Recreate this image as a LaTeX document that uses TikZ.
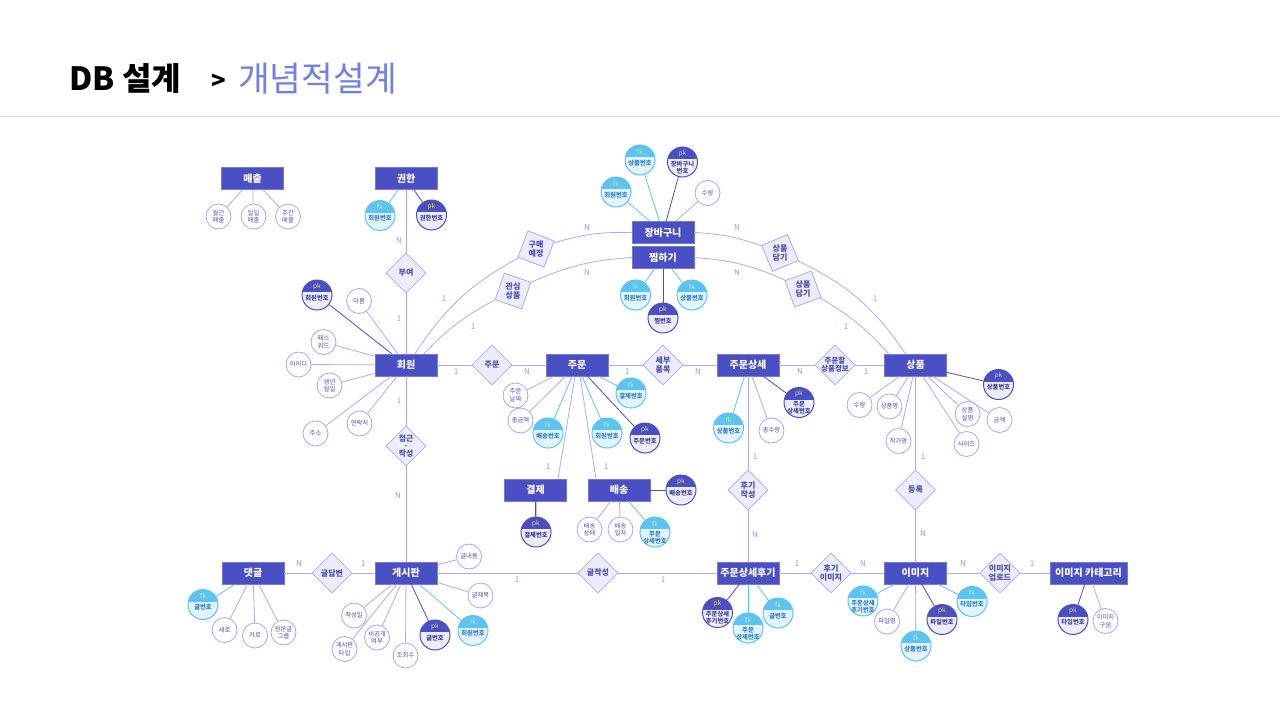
\documentclass[tikz,border=0pt]{standalone}
\usepackage{fontspec}
\setmainfont{Noto Sans CJK KR}
\usetikzlibrary{shapes.geometric}
\definecolor{entf}{HTML}{4A4FC4}
\definecolor{entb}{HTML}{7478D8}
\definecolor{lnc}{HTML}{A9ACF2}
\definecolor{relf}{HTML}{ECECFC}
\definecolor{relb}{HTML}{A9ACF0}
\definecolor{relt}{HTML}{4A4FB2}
\definecolor{attb}{HTML}{A4A7F0}
\definecolor{attt}{HTML}{4B4FB5}
\definecolor{pkb}{HTML}{4B4FC4}
\definecolor{pkf}{HTML}{ECECFA}
\definecolor{pkt}{HTML}{3D4199}
\definecolor{pktag}{HTML}{F2D35C}
\definecolor{fkb}{HTML}{5EC3F2}
\definecolor{fkf}{HTML}{E2F4FD}
\definecolor{fkt}{HTML}{2D7FC9}
\definecolor{fktag}{HTML}{B5F0A0}
\definecolor{cardc}{HTML}{969AEA}
\definecolor{ttlblue}{HTML}{6F80E6}
\definecolor{sepc}{HTML}{D9D9D9}
\tikzset{
 ent/.style={rectangle, draw=entb, line width=0.6pt, fill=entf, text=white, font=\bfseries\fontsize{10}{12}\selectfont, minimum width=62pt, minimum height=22pt, inner sep=0pt},
 rel/.style={diamond, draw=relb, fill=relf, line width=0.8pt, minimum width=40pt, minimum height=40pt, inner sep=0pt},
 rtxt/.style={text=relt, font=\bfseries\fontsize{8}{8.8}\selectfont, align=center, inner sep=0pt},
 att/.style={circle, draw=attb, fill=white, line width=0.8pt, minimum size=25pt, inner sep=0pt, text=attt, font=\fontsize{6.3}{7.5}\selectfont, align=center},
 keyc/.style={circle, line width=1pt, minimum size=30pt, inner sep=0pt},
 pkc/.style={keyc, draw=pkb, fill=pkf, path picture={\fill[pkb] ([yshift=-12pt]path picture bounding box.north west) rectangle (path picture bounding box.north east);}},
 fkc/.style={keyc, draw=fkb, fill=fkf, path picture={\fill[fkb] ([yshift=-12pt]path picture bounding box.north west) rectangle (path picture bounding box.north east);}},
 tagpk/.style={text=pktag, font=\fontsize{6.5}{7}\selectfont, inner sep=0pt},
 tagfk/.style={text=fktag, font=\fontsize{6.5}{7}\selectfont, inner sep=0pt},
 pktx/.style={text=pkt, font=\bfseries\fontsize{6.3}{7}\selectfont, align=center, inner sep=0pt},
 fktx/.style={text=fkt, font=\bfseries\fontsize{6.3}{7}\selectfont, align=center, inner sep=0pt},
 ln/.style={draw=lnc, line width=0.8pt},
 lpk/.style={draw=pkb, line width=0.8pt},
 lfk/.style={draw=fkb, line width=0.8pt},
 card/.style={text=cardc, font=\fontsize{8}{8}\selectfont, inner sep=0pt},
}
\newcommand\myAttr[3]{\node[att] (#1) at (#2) {#3};}
\newcommand\myPK[4][-3pt]{\node[pkc] (#2) at (#3) {}; \node[tagpk] (#2t) at ([yshift=8.5pt]#2.center) {pk}; \node[pktx] (#2x) at ([yshift=#1]#2.center) {#4};}
\newcommand\myFK[4][-3pt]{\node[fkc] (#2) at (#3) {}; \node[tagfk] (#2t) at ([yshift=8.5pt]#2.center) {fk}; \node[fktx] (#2x) at ([yshift=#1]#2.center) {#4};}
\begin{document}
\begin{tikzpicture}[x=1pt,y=-1pt]
\useasboundingbox (0,0) rectangle (1280,720);
\fill[white] (0,0) rectangle (1280,720);
% header
\node[anchor=base west, inner sep=0pt, font=\bfseries\fontsize{32}{34}\selectfont] (t1) at (69,90) {DB 설계};
\node[anchor=base west, inner sep=0pt, font=\bfseries\fontsize{24}{26}\selectfont] (t2) at (211,89) {>};
\node[anchor=base west, inner sep=0pt, text=ttlblue, font=\fontsize{34.5}{36}\selectfont] (t3) at (238,91) {개념적설계};
\coordinate (s1) at (0,116); \coordinate (s2) at (1280,116);
\draw[sepc, line width=1pt] (s1) -- (s2);
% entities
\node[ent] (ms) at (252.5,178.5) {매출};
\node[ent] (gh) at (406,178.5) {권한};
\node[ent] (jb) at (663,232.5) {장바구니};
\node[ent] (jj) at (663,257.5) {찜하기};
\node[ent] (hw) at (406,365) {회원};
\node[ent] (jm) at (577,365) {주문};
\node[ent] (jd) at (748,365) {주문상세};
\node[ent] (sp) at (915.5,365) {상품};
\node[ent] (gj) at (535.5,490) {결제};
\node[ent] (bs) at (619,490) {배송};
\node[ent] (dg) at (253,573) {댓글};
\node[ent] (gp) at (406,573) {게시판};
\node[ent] (jh) at (748,573) {주문상세후기};
\node[ent] (im) at (915.5,573) {이미지};
\node[ent, minimum width=77pt] (ic) at (1088.5,573) {이미지 카테고리};
% relationships
\node[rel, label={[rtxt]center:부여}] (rby) at (406,273) {};
\node[rel, rotate=24] (rgm) at (536,249) {};
\node[rtxt] (rgmt) at (rgm.center) {구매\\예정};
\node[rel, rotate=26] (rgs) at (513,291) {};
\node[rtxt] (rgst) at (rgs.center) {관심\\상품};
\node[rel, rotate=-22] (rsd1) at (780,253) {};
\node[rtxt] (rsd1t) at (rsd1.center) {상품\\담기};
\node[rel, rotate=-25] (rsd2) at (803,289) {};
\node[rtxt] (rsd2t) at (rsd2.center) {상품\\담기};
\node[rel, label={[rtxt]center:주문}] (rjm) at (492,365) {};
\node[rel, label={[rtxt]center:{세부\\품목}}] (rsb) at (663,365) {};
\node[rel, label={[rtxt, font=\bfseries\fontsize{7.5}{8.3}\selectfont]center:{주문할\\상품정보}}] (rjs) at (835,365) {};
\node[rel, label={[rtxt, font=\bfseries\fontsize{7.8}{7.6}\selectfont]center:{접근\\-\\작성}}] (rjg) at (406,446) {};
\node[rel, label={[rtxt]center:{후기\\작성}}] (rhj) at (748,490) {};
\node[rel, label={[rtxt]center:등록}] (rdr) at (915.5,490) {};
\node[rel, label={[rtxt]center:글답변}] (rgd) at (332,573) {};
\node[rel, label={[rtxt]center:글작성}] (rgjs) at (598,573) {};
\node[rel, label={[rtxt]center:{후기\\이미지}}] (rhi) at (831,573) {};
\node[rel, label={[rtxt]center:{이미지\\업로드}}] (riu) at (1000,573) {};
% attributes
\myAttr{a1}{218.5,216.5}{월간\\매출}
\myAttr{a2}{253.5,216.5}{일일\\매출}
\myAttr{a3}{288,216.5}{주간\\매출}
\myFK{k1}{380,215.5}{회원번호}
\myPK{k2}{431.5,215}{권한번호}
\myFK{k3}{640,160}{상품번호}
\myPK[-5.5pt]{k4}{682.5,162}{장바구니\\번호}
\myFK{k5}{616,192}{회원번호}
\myAttr{a4}{707.5,193}{수량}
\myFK{k6}{635.5,295}{회원번호}
\myPK{k7}{663,318}{찜번호}
\myFK{k8}{692,295}{상품번호}
\myPK{k9}{317,295}{회원번호}
\myAttr{a5}{359,301}{이름}
\myAttr{a6}{323.5,342}{패스\\워드}
\myAttr{a7}{298.5,364.5}{아이디}
\myAttr{a8}{329.5,385.5}{생년\\월일}
\myAttr{a9}{315.5,433.5}{주소}
\myAttr{a10}{359.5,423.5}{연락처}
\myAttr{a11}{515.5,395.5}{주문\\날짜}
\myAttr{a12}{520.5,420.5}{총금액}
\myFK{k10}{548,433}{배송번호}
\myFK{k11}{607,433}{회원번호}
\myPK{k12}{645,438}{주문번호}
\myFK{k13}{631,393}{결제번호}
\myPK{k14}{536,532}{결제번호}
\myPK{k15}{681,490}{배송번호}
\myAttr{a13}{589.5,529.5}{배송\\상태}
\myAttr{a14}{620.5,529.5}{배송\\일자}
\myFK[-5.5pt]{k16}{655,532}{주문\\상세번호}
\myFK{k17}{728.5,428}{상품번호}
\myAttr{a15}{771.5,430.5}{총수량}
\myPK[-5.5pt]{k18}{799,402.5}{주문\\상세번호}
\myPK{k19}{998.5,384.5}{상품번호}
\myAttr{a16}{859.5,405}{수량}
\myAttr{a17}{889.5,406.5}{상품명}
\myAttr{a18}{898.5,441}{작가명}
\myAttr{a19}{967.5,414}{상품\\설명}
\myAttr{a20}{999.5,420}{금액}
\myAttr{a21}{966.5,444}{사이즈}
\myFK{k20}{203,604.5}{글번호}
\myAttr{a22}{224.5,630}{세로}
\myAttr{a23}{255,635.5}{가로}
\myAttr{a24}{283.5,632.5}{원본글\\그룹}
\myAttr{a25}{469,556.5}{글내용}
\myAttr{a26}{480.5,595.5}{글제목}
\myAttr{a27}{354,615.5}{작성일}
\myAttr{a28}{377,637.5}{비공개\\여부}
\myAttr{a29}{344.5,649}{게시판\\타입}
\myAttr{a30}{405.5,655.5}{조회수}
\myPK{k21}{435,635}{글번호}
\myFK{k22}{473,630.5}{회원번호}
\myPK[-5.5pt]{k23}{717.5,612.5}{주문상세\\후기번호}
\myFK[-5.5pt]{k24}{748,628}{주문\\상세번호}
\myFK{k25}{778,613}{글번호}
\myFK[-5.5pt]{k26}{863,601}{주문상세\\후기번호}
\myAttr{a31}{887,621.5}{파일명}
\myFK{k27}{916,646}{상품번호}
\myPK{k28}{942,619.5}{파일번호}
\myFK{k29}{972,601.5}{타입번호}
\myPK{k30}{1073,619.5}{타입번호}
\myAttr{a32}{1105.5,621}{이미지\\구분}
% attribute edges
\draw[ln] (ms) -- (a1); \draw[ln] (ms) -- (a2); \draw[ln] (ms) -- (a3);
\draw[lfk] (gh) -- (k1); \draw[lpk] (gh) -- (k2);
\draw[lfk] (jb) -- (k3); \draw[lpk] (jb) -- (k4); \draw[lfk] (jb) -- (k5); \draw[ln] (jb) -- (a4);
\draw[lfk] (jj) -- (k6); \draw[lpk] (jj) -- (k7); \draw[lfk] (jj) -- (k8);
\draw[lpk] (hw) -- (k9);
\foreach \a in {a5,a6,a7,a8,a9,a10} {\draw[ln] (hw) -- (\a);}
\draw[ln] (jm) -- (a11); \draw[ln] (jm) -- (a12);
\draw[lfk] (jm) -- (k10); \draw[lfk] (jm) -- (k11); \draw[lfk] (jm) -- (k13); \draw[lpk] (jm) -- (k12);
\draw[lpk, line width=1.3pt] (gj) -- (k14);
\draw[lpk] (bs) -- (k15); \draw[ln] (bs) -- (a13); \draw[ln] (bs) -- (a14); \draw[lfk] (bs) -- (k16);
\draw[lfk] (jd) -- (k17); \draw[ln] (jd) -- (a15); \draw[lpk] (jd) -- (k18);
\draw[lpk] (sp) -- (k19);
\foreach \a in {a16,a17,a18,a19,a20,a21} {\draw[ln] (sp) -- (\a);}
\draw[lfk] (dg) -- (k20);
\foreach \a in {a22,a23,a24} {\draw[ln] (dg) -- (\a);}
\foreach \a in {a25,a26,a27,a28,a29,a30} {\draw[ln] (gp) -- (\a);}
\draw[lpk] (gp) -- (k21); \draw[lfk] (gp) -- (k22);
\draw[lpk] (jh) -- (k23); \draw[lfk] (jh) -- (k24); \draw[lfk] (jh) -- (k25);
\draw[lfk] (im) -- (k26); \draw[ln] (im) -- (a31); \draw[lfk] (im) -- (k27); \draw[lpk] (im) -- (k28); \draw[lfk] (im) -- (k29);
\draw[lpk] (ic) -- (k30); \draw[ln] (ic) -- (a32);
% relationship edges
\draw[ln] (gh) -- (rby) -- (hw);
\draw[ln] (hw) -- (rjm) -- (jm);
\draw[ln] (jm) -- (rsb) -- (jd);
\draw[ln] (jd) -- (rjs) -- (sp);
\draw[ln] (hw) -- (rjg) -- (gp);
\draw[ln] ([xshift=-2pt]jm.south) -- ([xshift=22.5pt]gj.north);
\draw[ln] ([xshift=3pt]jm.south) -- ([xshift=-23pt]bs.north);
\draw[ln] (jd) -- (rhj) -- (jh);
\draw[ln] (sp) -- (rdr) -- (im);
\draw[ln] (dg) -- (rgd) -- (gp);
\draw[ln] (gp) -- (rgjs) -- (jh);
\draw[ln] (jh) -- (rhi) -- (im);
\draw[ln] (im) -- (riu) -- (ic);
% arcs
\draw[ln] ([xshift=9pt]hw.north) to[bend left=14] (rgm);
\draw[ln] (rgm) to[bend left=9] (jb.west);
\draw[ln] (jb.east) to[bend left=8] (rsd1);
\draw[ln] (rsd1) to[bend left=15] ([xshift=-10pt]sp.north);
\draw[ln] ([xshift=18pt]hw.north) to[bend left=9] (rgs);
\draw[ln] (rgs) to[bend left=10] (jj.west);
\draw[ln] (jj.east) to[bend left=10] (rsd2);
\draw[ln] (rsd2) to[bend left=9] ([xshift=-27pt]sp.north);
% cardinalities
\node[card] (c1) at (399,241) {N}; \node[card] (c2) at (399,319) {1};
\node[card] (c3) at (444,299) {1}; \node[card] (c4) at (587,228) {N};
\node[card] (c5) at (737,228) {N}; \node[card] (c6) at (875,299) {1};
\node[card] (c7) at (473,327) {1}; \node[card] (c8) at (587,273) {N};
\node[card] (c9) at (737,273) {N}; \node[card] (c10) at (846,327) {1};
\node[card] (c11) at (456,372) {1}; \node[card] (c12) at (527,372) {N};
\node[card] (c13) at (627,372) {1}; \node[card] (c14) at (698,372) {N};
\node[card] (c15) at (800,372) {N}; \node[card] (c16) at (866,372) {1};
\node[card] (c17) at (399,401) {1}; \node[card] (c18) at (398,496) {N};
\node[card] (c19) at (548,467) {1}; \node[card] (c20) at (606,467) {1};
\node[card] (c21) at (755,457) {1}; \node[card] (c22) at (755,535) {N};
\node[card] (c23) at (923,457) {1}; \node[card] (c24) at (923,534) {N};
\node[card] (c25) at (299,564) {N}; \node[card] (c26) at (363,564) {1};
\node[card] (c27) at (517,580) {1}; \node[card] (c28) at (663,580) {1};
\node[card] (c29) at (797,564) {1}; \node[card] (c30) at (863,564) {N};
\node[card] (c31) at (963,564) {N}; \node[card] (c32) at (1032,564) {1};
\end{tikzpicture}
\end{document}
